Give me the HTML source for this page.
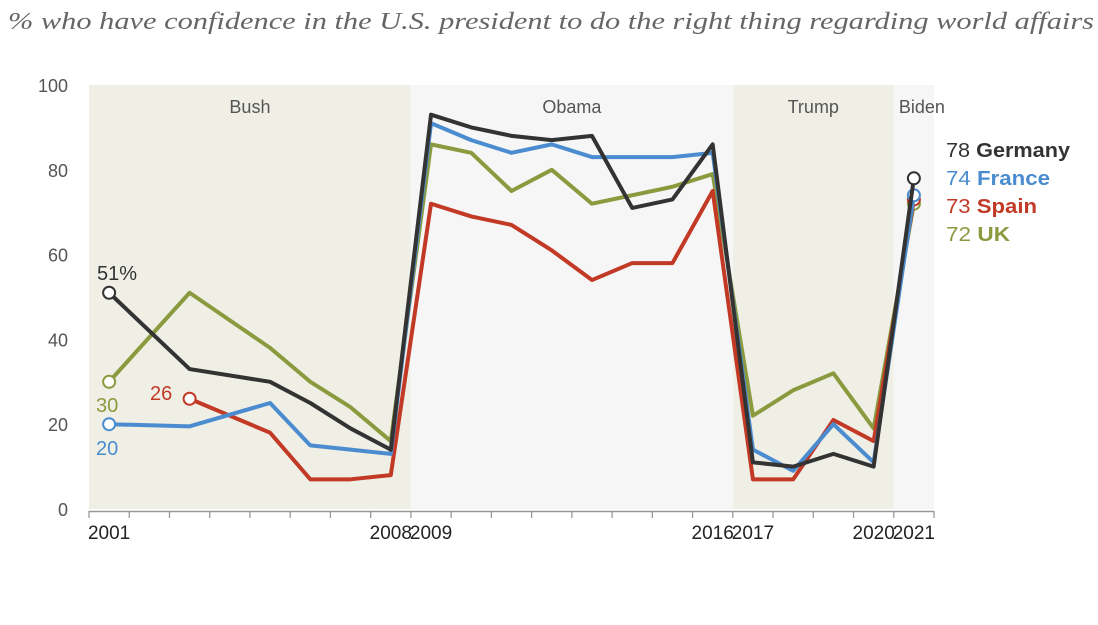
<!DOCTYPE html>
<html><head><meta charset="utf-8"><style>
body{margin:0;background:#fff;width:1098px;height:620px;overflow:hidden}
svg text{font-family:"Liberation Sans",sans-serif}
</style></head><body>
<svg width="1098" height="620">
<text x="8" y="29" textLength="1086" lengthAdjust="spacingAndGlyphs" font-style="italic" font-size="24" fill="#666" style="font-family:'Liberation Serif',serif">% who have confidence in the U.S. president to do the right thing regarding world affairs</text>
<g id="bands"></g><g id="axes"></g><g id="lines"></g><g id="labels"></g>
</svg>
<script>
const years=[2001,2002,2003,2004,2005,2006,2007,2008,2009,2010,2011,2012,2013,2014,2015,2016,2017,2018,2019,2020,2021];
const germany=[51,null,33,null,30,25,19,14,93,90,88,87,88,71,73,86,11,10,13,10,78];
const france=[20,null,19.5,null,25,15,14,13,91,87,84,86,83,83,83,84,14,9,20,11,74];
const spain=[null,null,26,null,18,7,7,8,72,69,67,61,54,58,58,75,7,7,21,16,73];
const uk=[30,null,51,null,38,30,24,16,86,84,75,80,72,74,76,79,22,28,32,19,72];
const yTicks=[0,20,40,60,80,100];
const xLabels=[2001,2008,2009,2016,2017,2020,2021];
const NS='http://www.w3.org/2000/svg';
const X0=89,STEP=(934-89)/21;
const xb=y=>X0+STEP*(y-2001);
const x=y=>xb(y)+STEP/2;
const y=v=>509-v*4.24;
function mk(t,a,p){const e=document.createElementNS(NS,t);for(const k in a)e.setAttribute(k,a[k]);p.appendChild(e);return e}
const bands=document.getElementById('bands'),axes=document.getElementById('axes'),lines=document.getElementById('lines'),labels=document.getElementById('labels');
[['Bush',2001,2009,'#f0efe6'],['Obama',2009,2017,'#f6f6f6'],['Trump',2017,2021,'#f0efe6'],['Biden',2021,2022,'#f6f6f6']].forEach(b=>{
 const r=mk('rect',{x:xb(b[1]),y:y(100),width:xb(b[2])-xb(b[1]),height:y(0)-y(100),fill:b[3]},bands);
 
 
 const t=mk('text',{x:(xb(b[1])+xb(b[2]))/2+(b[0]=='Biden'?8:0),y:113,'text-anchor':'middle','font-size':18,fill:'#555'},bands);
 t.textContent=b[0];
 
 
});
yTicks.forEach(v=>{const t=mk('text',{x:68,y:y(v)+7,'text-anchor':'end','font-size':18,fill:'#555'},axes);t.textContent=v;
 
 });
const ax=mk('line',{x1:X0,x2:934,y1:511.5,y2:511.5,stroke:'#999','stroke-width':1.5},axes);


for(let i=0;i<=21;i++){mk('line',{x1:X0+STEP*i,x2:X0+STEP*i,y1:511,y2:518,stroke:'#999','stroke-width':1.3},axes);}
xLabels.forEach(yr=>{const t=mk('text',{x:x(yr),y:539,'text-anchor':'middle','font-size':19,fill:'#222'},axes);t.textContent=yr;
 
 });
const series=[['uk',uk,'#8b9a3e'],['spain',spain,'#c23a26'],['france',france,'#4a8ccf'],['germany',germany,'#333']];
series.forEach(s=>{
 let d='';s[1].forEach((v,i)=>{if(v==null)return;d+=(d?'L':'M')+x(years[i])+','+y(v);});
 const p=mk('path',{d,fill:'none',stroke:s[2],'stroke-width':4,'stroke-linejoin':'round'},lines);
 
 
 const fi=s[1].findIndex(v=>v!=null),li=s[1].length-1;
 [fi,li].forEach(i=>{const c=mk('circle',{cx:x(years[i]),cy:y(s[1][i]),r:6,fill:'#fff',stroke:s[2],'stroke-width':2},lines);
  
  });
});
function lab(txt,xx,yy,col,name){const t=mk('text',{x:xx,y:yy,'font-size':20,fill:col},labels);t.textContent=txt;
 
 return t;}
lab(germany[0]+'%',97,y(germany[0])-13,'#333','start-label-germany');
lab(uk[0],96,y(uk[0])+30,'#8b9a3e','start-label-uk');
lab(france[0],96,y(france[0])+31,'#4a8ccf','start-label-france');
lab(spain[2],150,y(spain[2])+1,'#c23a26','start-label-spain');
[['Germany',germany,'#333',157,124],['France',france,'#4a8ccf',185,104],['Spain',spain,'#c23a26',213,91],['UK',uk,'#8b9a3e',241,64]].forEach(e=>{
 const t=mk('text',{x:946,y:e[3],'font-size':20,fill:e[2],textLength:e[4],lengthAdjust:'spacingAndGlyphs'},labels);
 
 
 const a=mk('tspan',{},t);a.textContent=e[1][20]+' ';
 const b=mk('tspan',{'font-weight':'bold'},t);b.textContent=e[0];
});
</script>
</body></html>
